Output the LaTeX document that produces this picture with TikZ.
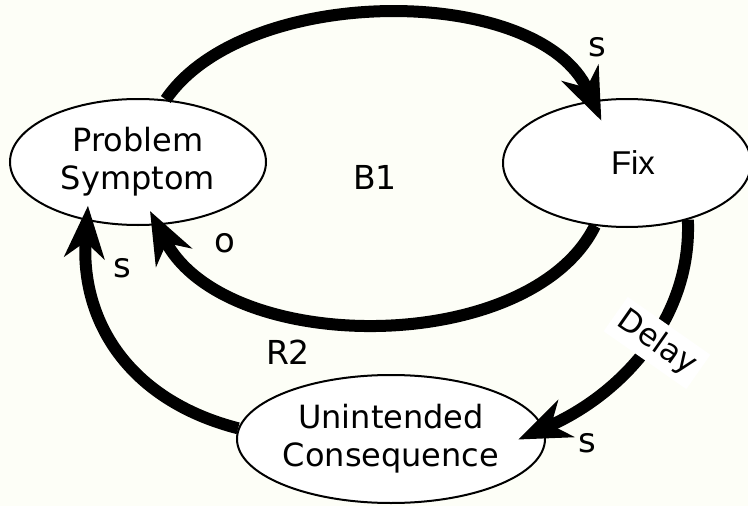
\documentclass[tikz,border=0pt]{standalone}
\usepackage{fontspec}
\setmainfont{DejaVu Sans}
\newfontfamily\fixfont{Liberation Sans}
\usetikzlibrary{shapes.geometric,arrows.meta}
\definecolor{bgcream}{RGB}{253,254,247}
\begin{document}
\begin{tikzpicture}[x=1pt,y=-1pt,
  bubble/.style={ellipse, draw, line width=2pt, fill=white, inner sep=0pt, align=center,
    font=\fontsize{32}{38}\selectfont},
  link/.style={line width=12pt, -{Stealth[length=52pt,width=40pt,inset=16pt]}},
  lbl/.style={font=\fontsize{34}{40}\selectfont, inner sep=0pt},
  loopname/.style={font=\fontsize{33}{38}\selectfont, inner sep=0pt}]
\fill[bgcream] (0,0) rectangle (748,506);
\useasboundingbox (0,0) rectangle (748,506);

\node[bubble, minimum width=256pt, minimum height=126pt] (PS) at (138,162) {Problem\\Symptom};
\node[bubble, minimum width=248pt, minimum height=128pt,
  font=\fixfont\fontsize{33}{38}\selectfont] (Fix) at (627,163) {\hspace*{12pt}Fix};
\node[bubble, minimum width=308pt, minimum height=128pt] (UC) at (391,439) {Unintended\\Consequence};

\draw[link, shorten >=-22pt] (PS.66) .. controls (245,-17) and (540,-17) .. (Fix.119);
\draw[link, shorten >=-16pt] (Fix.-117) .. controls (530,357) and (225,357) .. (PS.-73);
\draw[link, shorten >=-28pt] (Fix.-43) .. controls (692,320) and (620,395) .. (UC.4);
\draw[link, shorten >=-15pt] (UC.176) .. controls (128,400) and (80,320) .. (PS.-131);

\node[fill=white, rotate=-35, inner sep=6pt, font=\fontsize{31}{36}\selectfont] (delay) at (657,343) {Delay};

\node[lbl] (s1) at (597,47) {s};
\node[lbl] (o1) at (225,243) {o};
\node[lbl] (s2) at (122,268) {s};
\node[lbl] (s3) at (587,443) {s};
\node[loopname] (b1) at (375,177) {B1};
\node[loopname] (r2) at (288,352) {R2};
\end{tikzpicture}
\end{document}
